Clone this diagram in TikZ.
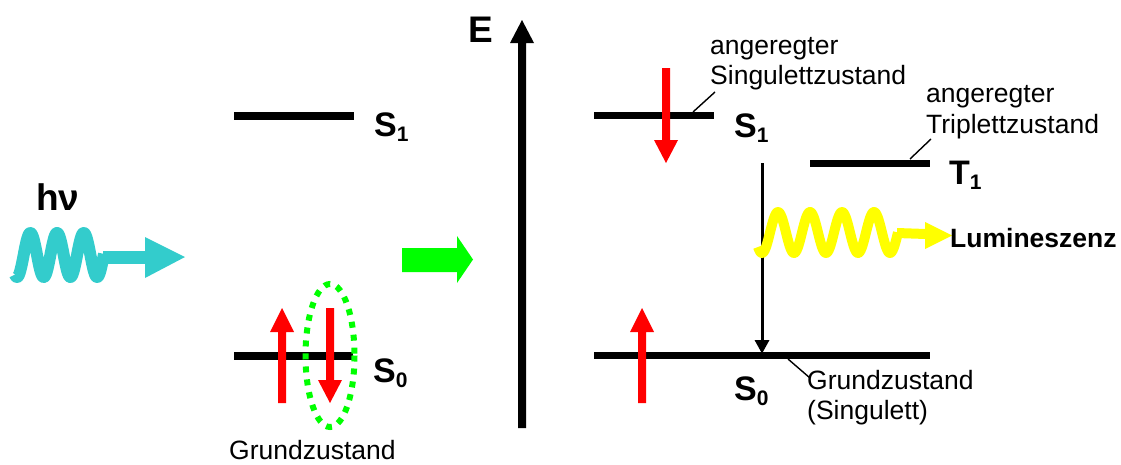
\documentclass[tikz,border=0pt]{standalone}
\usepackage{fontspec}
\setmainfont{Liberation Sans}
\definecolor{cyanw}{RGB}{51,204,204}
\definecolor{grn}{RGB}{0,255,0}
\definecolor{yel}{RGB}{255,255,0}
\definecolor{rd}{RGB}{255,0,0}
\newcommand\lvsub[1]{\raisebox{-5pt}{\fontsize{21}{21}\selectfont #1}}
\tikzset{
  levelline/.style={line width=7.5pt},
  leader/.style={line width=1.4pt},
  spinarrow/.style={fill=rd},
  lab/.style={font=\fontsize{26.5}{30}\selectfont, inner sep=0pt, anchor=base west},
  statelab/.style={font=\bfseries\fontsize{34}{34}\selectfont, inner sep=0pt, anchor=base west},
  biglab/.style={font=\bfseries\fontsize{37}{37}\selectfont, inner sep=0pt, anchor=base west},
}
\begin{document}
\begin{tikzpicture}[x=1pt,y=-1pt]
\useasboundingbox (0,0) rectangle (1121,464);

% ---------- left panel ----------
\node[biglab] (hv) at (36,210) {hν};
% cyan photon
\draw[cyanw, line width=12pt, line join=round]
  plot[domain=15:104, samples=200] (\x, {255+22*cos(13.4831*(\x-17))});
\draw[cyanw, line width=13pt] (103,257) -- (146,257);
\fill[cyanw] (145,237) -- (185,257) -- (145,278) -- cycle;

% levels
\draw[levelline] (234,116) -- (354,116);
\draw[levelline] (234,356) -- (353,356);
\node[statelab] (S1l) at (374,136) {S\lvsub{1}};
\node[statelab] (S0l) at (373,382) {S\lvsub{0}};

% spins
\fill[spinarrow] (278,403) -- (278,332) -- (270,332) -- (282,308) -- (294,332) -- (286,332) -- (286,403) -- cycle;
\fill[spinarrow] (326,308) -- (326,380) -- (318,380) -- (330,403) -- (342,380) -- (334,380) -- (334,308) -- cycle;
% dotted ellipse
\draw[grn, line width=6pt, dash pattern=on 6pt off 7pt] (330,355.5) ellipse [x radius=24.5, y radius=71.5];
\node[lab] (gz1) at (229,459) {Grundzustand};

% green block arrow
\fill[grn] (402,248) -- (457,248) -- (457,236) -- (473,259.5) -- (457,283) -- (457,272) -- (402,272) -- cycle;

% ---------- energy axis ----------
\fill (518,428) -- (518,43) -- (510,43) -- (522,20) -- (534,43) -- (526,43) -- (526,428) -- cycle;
\node[biglab] (E) at (468,42) {E};

% ---------- right panel ----------
\draw[levelline] (594,115.5) -- (714,115.5);
\draw[levelline] (810,163.5) -- (930,163.5);
\draw[levelline] (594,355.5) -- (930,355.5);
\node[statelab] (S1r) at (734,137) {S\lvsub{1}};
\node[statelab] (T1) at (949,184) {T\lvsub{1}};
\node[statelab] (S0r) at (734,400) {S\lvsub{0}};

\fill[spinarrow] (662,68) -- (662,140) -- (654,140) -- (666,163) -- (678,140) -- (670,140) -- (670,68) -- cycle;
\fill[spinarrow] (638,403) -- (638,332) -- (630,332) -- (642,308) -- (654,332) -- (646,332) -- (646,403) -- cycle;

% transition arrow
\coordinate (tTop) at (762,163);
\coordinate (tBot) at (762,341);
\draw[line width=3pt] (tTop) -- (tBot);
\fill (754.5,340) -- (769.5,340) -- (762,353.5) -- cycle;

% luminescence
\draw[yel, line width=10pt, line join=round]
  plot[domain=758:898, samples=200] (\x, {232.5+20.5*cos(11.25*(\x-762))});
\draw[yel, line width=10pt] (897,233) -- (926,234);
\fill[yel] (925,222) -- (952,235.5) -- (925,249) -- cycle;
\node[font=\bfseries\fontsize{26.5}{30}\selectfont, inner sep=0pt, anchor=base west] (lum) at (950,247) {Lumineszenz};

% labels with leaders
\node[lab] (a1) at (710,54) {angeregter};
\node[lab] (a2) at (710,84) {Singulettzustand};
\node[lab] (b1) at (926,102) {angeregter};
\node[lab] (b2) at (926,133) {Triplettzustand};
\node[lab] (c1) at (807,389) {Grundzustand};
\node[lab] (c2) at (807,419) {(Singulett)};

\coordinate (l1a) at (693,112); \coordinate (l1b) at (715,92);
\coordinate (l2a) at (910,159); \coordinate (l2b) at (931,139);
\coordinate (l3a) at (788,359); \coordinate (l3b) at (810,378);
\draw[leader] (l1a) -- (l1b);
\draw[leader] (l2a) -- (l2b);
\draw[leader] (l3a) -- (l3b);
\end{tikzpicture}
\end{document}
